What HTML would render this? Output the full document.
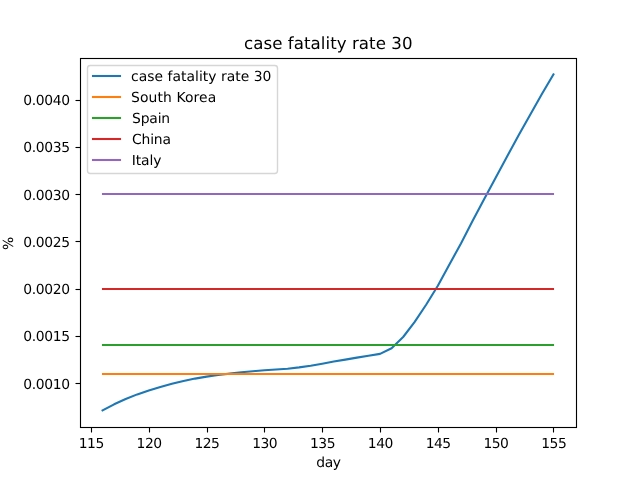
<!DOCTYPE html>
<html lang="en"><head><meta charset="utf-8"><title>case fatality rate 30</title>
<style>html,body{margin:0;padding:0;background:#fff;overflow:hidden}body{width:640px;height:480px}svg{display:block}text{font-family:'DejaVu Sans','Liberation Sans',sans-serif;fill:#000;text-rendering:geometricPrecision}.t{font-size:13.889px}.T{font-size:16.667px}.l{fill:none;stroke-width:2.0833;stroke-linecap:square;stroke-linejoin:round}.k{stroke:#000;stroke-width:1.1111;fill:none}.j{filter:url(#j)}@media (min-resolution:1.01dppx),(max-resolution:0.99dppx){.j{filter:none}}</style></head><body>
<svg width="640" height="480" viewBox="0 0 640 480">
<defs><filter id="j" x="0" y="0" width="640" height="480" filterUnits="userSpaceOnUse" color-interpolation-filters="sRGB"><feColorMatrix in="SourceGraphic" type="matrix" values=".299 .587 .114 0 0 .299 .587 .114 0 0 .299 .587 .114 0 0 0 0 0 0 1" result="y"/><feColorMatrix in="SourceGraphic" type="matrix" values="-.168736 -.331264 .5 0 0.501961 .5 -.418688 -.081312 0 0.501961 0 0 0 0 .5 0 0 0 0 1" result="c"/><feConvolveMatrix in="c" order="2" kernelMatrix=".25 .25 .25 .25" divisor="1" targetX="0" targetY="0" edgeMode="duplicate" preserveAlpha="true" result="ca"/><feFlood flood-color="#000" x="0" y="0" width="1" height="1" result="dot"/><feOffset in="dot" dx="0" dy="0" x="0" y="0" width="2" height="2" result="cell"/><feTile in="cell" x="0" y="0" width="640" height="480" result="mask"/><feComposite in="ca" in2="mask" operator="in" result="cs"/><feConvolveMatrix in="cs" order="4" kernelMatrix="0.0625 0.1875 0.1875 0.0625 0.1875 0.5625 0.5625 0.1875 0.1875 0.5625 0.5625 0.1875 0.0625 0.1875 0.1875 0.0625" divisor="1" targetX="2" targetY="2" edgeMode="none" preserveAlpha="false" result="cu"/><feColorMatrix in="cu" type="matrix" values="0 0.701 0 0 0.150086 -0.172068 -0.357068 0 0 0.767566 0.886 0 0 0 0.057224 0 0 0 0 1" result="d"/><feComposite in="y" in2="d" operator="arithmetic" k1="0" k2="1" k3="2" k4="-1.003922"/></filter></defs>
<g class="j">
<rect width="640" height="480" fill="#fff"/>
<polyline class="l" stroke="#1f77b4" points="102.55,410.40 114.11,404.30 125.67,399.00 137.23,394.40 148.79,390.45 160.35,386.95 171.92,383.85 183.48,381.00 195.04,378.60 206.60,376.60 218.16,375.00 229.72,373.60 241.29,372.30 252.85,371.20 264.41,370.30 275.97,369.50 287.53,368.70 299.10,367.40 310.66,365.70 322.22,363.70 333.78,361.60 345.34,359.60 356.90,357.65 368.47,355.70 380.03,353.90 391.59,348.30 403.15,337.00 414.71,321.90 426.28,304.50 437.84,285.80 449.40,264.50 460.96,243.40 472.52,221.10 484.08,199.20 495.65,177.70 507.21,156.25 518.77,134.90 530.33,114.40 541.89,94.10 553.45,74.40"/>
<line class="l" stroke="#ff7f0e" x1="103" y1="374" x2="553" y2="374"/>
<line class="l" stroke="#2ca02c" x1="103" y1="345" x2="553" y2="345"/>
<line class="l" stroke="#d62728" x1="103" y1="289" x2="553" y2="289"/>
<line class="l" stroke="#9467bd" x1="103" y1="194" x2="553" y2="194"/>
<line class="k" x1="91.5" y1="427.5" x2="91.5" y2="432.50"/>
<line class="k" x1="149.5" y1="427.5" x2="149.5" y2="432.50"/>
<line class="k" x1="207.5" y1="427.5" x2="207.5" y2="432.50"/>
<line class="k" x1="264.5" y1="427.5" x2="264.5" y2="432.50"/>
<line class="k" x1="322.5" y1="427.5" x2="322.5" y2="432.50"/>
<line class="k" x1="380.5" y1="427.5" x2="380.5" y2="432.50"/>
<line class="k" x1="438.5" y1="427.5" x2="438.5" y2="432.50"/>
<line class="k" x1="496.5" y1="427.5" x2="496.5" y2="432.50"/>
<line class="k" x1="553.5" y1="427.5" x2="553.5" y2="432.50"/>
<line class="k" x1="80.5" y1="100.5" x2="75.50" y2="100.5"/>
<line class="k" x1="80.5" y1="147.5" x2="75.50" y2="147.5"/>
<line class="k" x1="80.5" y1="194.5" x2="75.50" y2="194.5"/>
<line class="k" x1="80.5" y1="241.5" x2="75.50" y2="241.5"/>
<line class="k" x1="80.5" y1="289.5" x2="75.50" y2="289.5"/>
<line class="k" x1="80.5" y1="336.5" x2="75.50" y2="336.5"/>
<line class="k" x1="80.5" y1="383.5" x2="75.50" y2="383.5"/>
<rect class="k" x="80.5" y="58.5" width="496" height="369"/>
<text class="t" text-anchor="middle" letter-spacing="-0.500" x="91.28" y="448.00">115</text>
<text class="t" text-anchor="middle" letter-spacing="-0.500" x="149.09" y="448.00">120</text>
<text class="t" text-anchor="middle" letter-spacing="-0.500" x="206.90" y="448.00">125</text>
<text class="t" text-anchor="middle" letter-spacing="-0.500" x="264.71" y="448.00">130</text>
<text class="t" text-anchor="middle" letter-spacing="-0.500" x="322.52" y="448.00">135</text>
<text class="t" text-anchor="middle" letter-spacing="-0.500" x="380.33" y="448.00">140</text>
<text class="t" text-anchor="middle" letter-spacing="-0.500" x="438.14" y="448.00">145</text>
<text class="t" text-anchor="middle" letter-spacing="-0.500" x="495.95" y="448.00">150</text>
<text class="t" text-anchor="middle" letter-spacing="-0.500" x="553.75" y="448.00">155</text>
<text class="t" text-anchor="middle" letter-spacing="-0.450" x="328.40" y="467.00">day</text>
<text class="t" text-anchor="end" letter-spacing="-0.300" x="69.90" y="105.00">0.0040</text>
<text class="t" text-anchor="end" letter-spacing="-0.300" x="69.90" y="152.00">0.0035</text>
<text class="t" text-anchor="end" letter-spacing="-0.300" x="69.90" y="200.00">0.0030</text>
<text class="t" text-anchor="end" letter-spacing="-0.300" x="69.90" y="247.00">0.0025</text>
<text class="t" text-anchor="end" letter-spacing="-0.300" x="69.90" y="294.00">0.0020</text>
<text class="t" text-anchor="end" letter-spacing="-0.300" x="69.90" y="341.00">0.0015</text>
<text class="t" text-anchor="end" letter-spacing="-0.300" x="69.90" y="389.00">0.0010</text>
<text class="t" text-anchor="middle" x="13.24" y="243.40" transform="rotate(-90 13.24 243.40)">%</text>
<text class="T" text-anchor="middle" letter-spacing="0.050" x="328.30" y="49.27">case fatality rate 30</text>
<rect x="87.5" y="65.5" width="190" height="108" rx="2.78" ry="2.78" fill="#fff" fill-opacity="0.8" stroke="#ccc" stroke-opacity="0.8" stroke-width="1.389"/>
<line class="l" stroke="#1f77b4" x1="93" y1="76" x2="120" y2="76"/>
<text class="t" letter-spacing="0.040" x="130.99" y="81.00">case fatality rate 30</text>
<line class="l" stroke="#ff7f0e" x1="93" y1="97" x2="120" y2="97"/>
<text class="t" letter-spacing="0.120" x="130.99" y="102.00">South Korea</text>
<line class="l" stroke="#2ca02c" x1="93" y1="118" x2="120" y2="118"/>
<text class="t" letter-spacing="-0.170" x="132.09" y="123.00">Spain</text>
<line class="l" stroke="#d62728" x1="93" y1="139" x2="120" y2="139"/>
<text class="t" letter-spacing="-0.200" x="132.09" y="144.00">China</text>
<line class="l" stroke="#9467bd" x1="93" y1="160" x2="120" y2="160"/>
<text class="t" letter-spacing="-0.100" x="131.79" y="165.00">Italy</text>
</g>
</svg></body></html>
